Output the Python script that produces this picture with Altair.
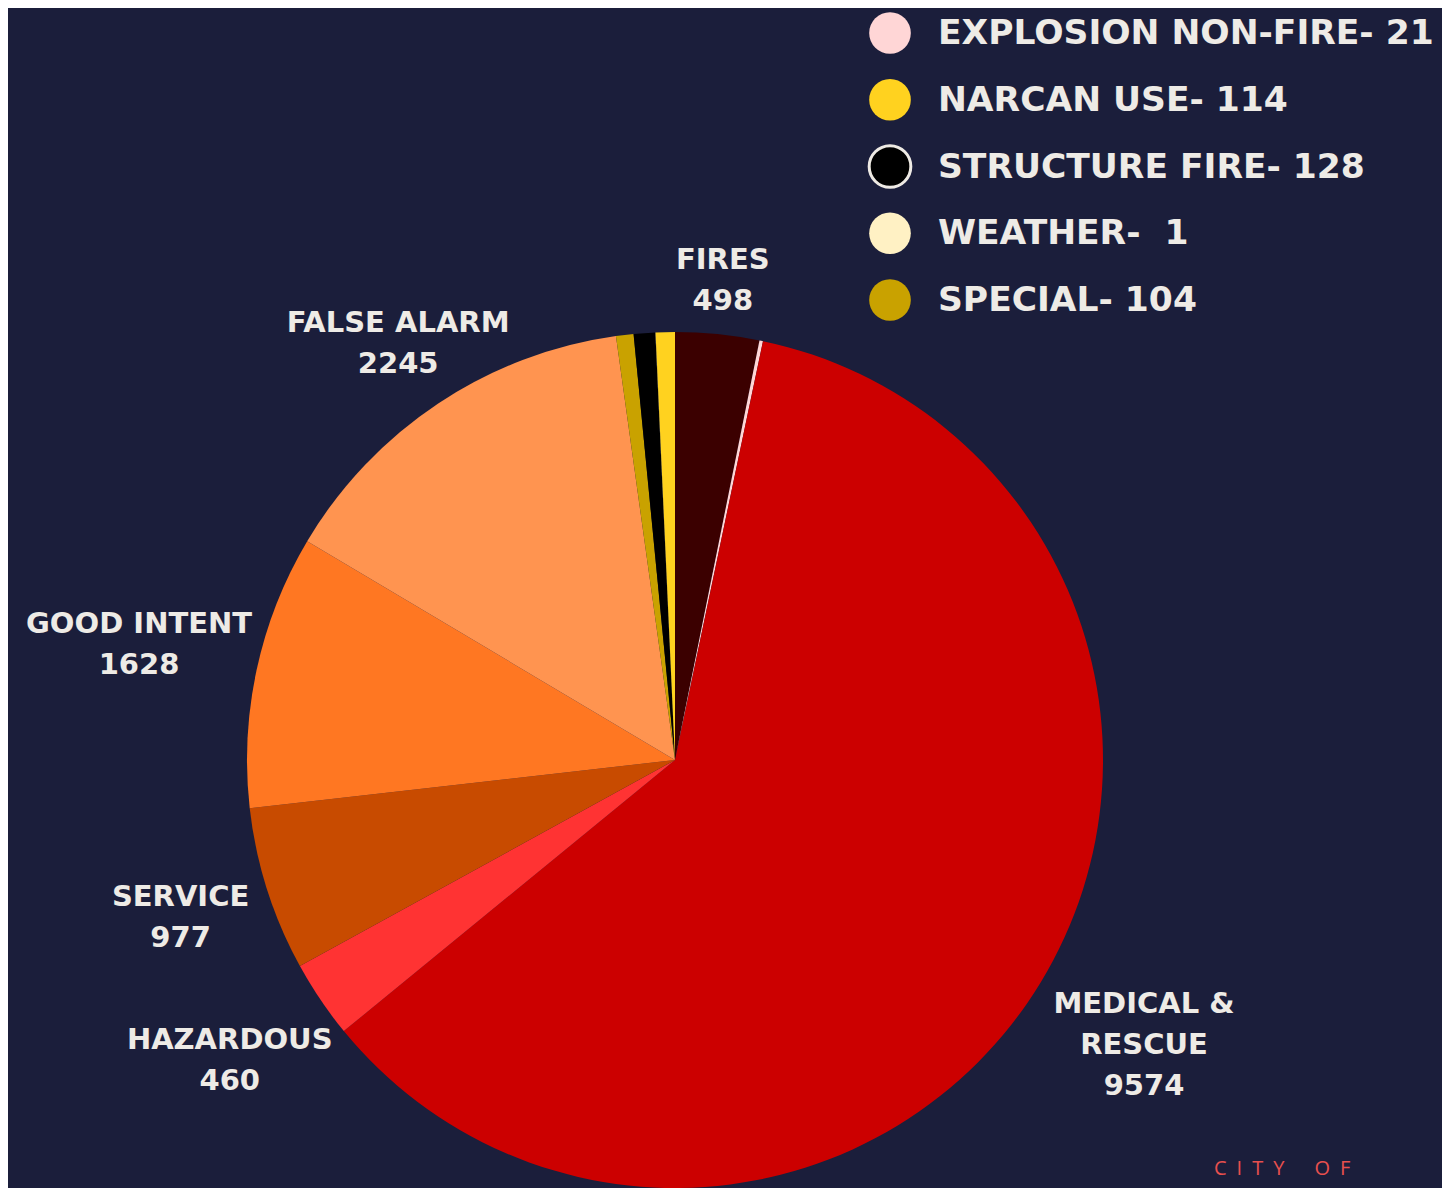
import altair as alt
import pandas as pd

# ---- data (clockwise from 12 o'clock) ----
categories = ["FIRES", "EXPLOSION NON-FIRE", "MEDICAL & RESCUE", "HAZARDOUS", "SERVICE",
              "GOOD INTENT", "FALSE ALARM", "SPECIAL", "STRUCTURE FIRE", "WEATHER", "NARCAN USE"]
values = [498, 21, 9574, 460, 977, 1628, 2245, 104, 128, 1, 114]
pie_labels = ["FIRES\n498", "", "MEDICAL &\nRESCUE\n9574", "HAZARDOUS\n460", "SERVICE\n977",
              "GOOD INTENT\n1628", "FALSE ALARM\n2245", "", "", "", ""]
slice_colors = ["#3b0000", "#ffd6d6", "#cc0000", "#ff3333", "#c84b00",
                "#ff7722", "#ff9450", "#c9a200", "#000000", "#fff1c4", "#ffd21f"]

legend_items = ["EXPLOSION NON-FIRE", "NARCAN USE", "STRUCTURE FIRE", "WEATHER", "SPECIAL"]
legend_texts = ["EXPLOSION NON-FIRE- 21", "NARCAN USE- 114", "STRUCTURE FIRE- 128",
                "WEATHER-\u00a0 1", "SPECIAL- 104"]

footer_text = ["C\u2002I\u2002T\u2002Y\u2002\u2003O\u2002F"]

BG = "#1b1e3b"
TXT = "#eeebe6"
R = 428
CX, CY = 667, 752
LH = 41
GAP = 10
HALF_CHAR = 10.25  # half of an estimated glyph width

pie_df = pd.DataFrame({"category": categories, "value": values,
                       "label": pie_labels, "order": list(range(len(categories)))})
leg_df = pd.DataFrame({"category": legend_items, "text": legend_texts})
foot_df = pd.DataFrame({"t": footer_text})

color_scale = alt.Scale(domain=categories, range=slice_colors)

arc = alt.Chart(pie_df).mark_arc(outerRadius=R).encode(
    theta=alt.Theta("value:Q", stack=True),
    order=alt.Order("order:Q"),
    color=alt.Color("category:N", scale=color_scale, legend=None),
    x=alt.value(CX), y=alt.value(CY),
)

# distance needed for each text line (as a box) to clear the rim; take the largest
line_terms = []
for i in range(3):
    line_terms.append(
        f"(datum.nlines > {i} ? {R} + {GAP} + abs(sin(datum.mid)) * length(datum.lines[{i}]) * {HALF_CHAR}"
        f" + abs(cos(datum.mid)) * {LH / 2} + cos(datum.mid) * ({i} - (datum.nlines - 1) / 2) * {LH} : 0)"
    )
lr_expr = "max(" + ", ".join(line_terms) + ")"

labels = alt.Chart(pie_df).transform_joinaggregate(
    total="sum(value)"
).transform_window(
    cum="sum(value)", sort=[alt.SortField("order")], frame=[None, 0]
).transform_calculate(
    mid="(datum.cum - datum.value/2) / datum.total * 2 * PI",
    lines="split(datum.label, '\\n')",
).transform_calculate(
    nlines="length(datum.lines)",
).transform_calculate(
    lr=lr_expr
).transform_calculate(
    px=f"{CX} + datum.lr * sin(datum.mid)",
    py=f"{CY} - datum.lr * cos(datum.mid) - (datum.nlines - 1) / 2 * {LH}",
).mark_text(
    font="DejaVu Sans", fontSize=29, fontWeight="bold", color=TXT,
    align="center", baseline="middle", lineBreak="\n", lineHeight=LH,
).encode(
    x=alt.X("px:Q", scale=None, axis=None),
    y=alt.Y("py:Q", scale=None, axis=None),
    text="label:N",
)

leg_y = alt.Y("category:N", sort=legend_items, axis=None,
              scale=alt.Scale(type="point", domain=legend_items, range=[25, 292], padding=0))

leg_dots = alt.Chart(leg_df).mark_circle(size=1735, opacity=1, strokeWidth=3).encode(
    y=leg_y,
    x=alt.value(882),
    color=alt.Color("category:N", scale=color_scale, legend=None),
    stroke=alt.condition("datum.category == 'STRUCTURE FIRE'", alt.value("#eeeae4"), alt.value("transparent")),
)

leg_text = alt.Chart(leg_df).mark_text(
    font="DejaVu Sans", fontSize=34.5, fontWeight="bold", color=TXT, align="left", baseline="middle", dy=1
).encode(
    y=leg_y,
    x=alt.value(930),
    text="text:N",
)

legend = alt.layer(leg_dots, leg_text)

footer = alt.Chart(foot_df).mark_text(
    font="Open Sans", fontSize=20, color="#e8504e", align="left", baseline="alphabetic"
).encode(
    x=alt.value(1206), y=alt.value(1167), text="t:N"
)

chart = alt.layer(arc, labels, legend, footer).resolve_scale(
    x="independent", y="independent"
).properties(
    width=1434, height=1180,
    autosize=alt.AutoSizeParams(type="none"),
    padding=0,
    background=BG,
).configure_view(strokeWidth=0)

chart.save("out.html", embed_options={"renderer": "svg", "actions": False})
